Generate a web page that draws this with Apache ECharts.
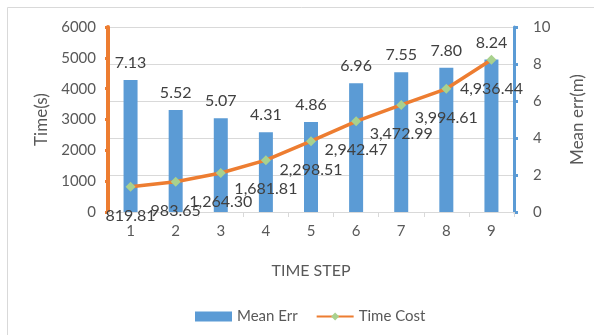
<!DOCTYPE html>
<html>
<head>
<meta charset="utf-8">
<script src="https://cdn.jsdelivr.net/npm/echarts@6/dist/echarts.min.js"></script>
<style>
html,body{margin:0;padding:0;background:#fff;}
#c{width:594px;height:335px;}
</style>
</head>
<body>
<div id="c"></div>
<script>
var categories = ['1','2','3','4','5','6','7','8','9'];
var meanErr = [7.13, 5.52, 5.07, 4.31, 4.86, 6.96, 7.55, 7.80, 8.24];
var timeCost = [819.81, 983.65, 1264.30, 1681.81, 2298.51, 2942.47, 3472.99, 3994.61, 4936.44];

var FONT = 'Lato';
var chart = echarts.init(document.getElementById('c'), null, {renderer: 'canvas'});
function fmt(v){
  return v.toLocaleString('en-US', {minimumFractionDigits: 2, maximumFractionDigits: 2});
}
chart.setOption({
  animation: false,
  textStyle: {fontFamily: FONT},
  graphic: [{
    type: 'rect', left: 7, top: 7, z: -10,
    shape: {width: 700, height: 400},
    style: {fill: '#fff', stroke: '#d9d9d9', lineWidth: 1}
  }],
  grid: {left: 108, right: 76, top: 27, bottom: 123},
  legend: {
    top: 304, left: 190,
    itemWidth: 37, itemHeight: 10, itemGap: 18,
    textStyle: {color: '#595959', fontSize: 15, fontFamily: FONT},
    data: [
      {name: 'Mean Err', icon: 'rect'},
      {name: 'Time Cost'}
    ]
  },
  xAxis: {
    type: 'category',
    data: categories,
    name: 'TIME STEP',
    nameLocation: 'middle',
    nameGap: 51,
    nameTextStyle: {color: '#595959', fontSize: 16, fontFamily: FONT},
    axisLine: {lineStyle: {color: '#d9d9d9', width: 1}},
    axisTick: {show: true, alignWithLabel: false, length: 5, lineStyle: {color: '#d9d9d9'}},
    axisLabel: {color: '#595959', fontSize: 15, margin: 12, fontFamily: FONT}
  },
  yAxis: [
    {
      type: 'value', min: 0, max: 6000, interval: 1000,
      name: 'Time(s)', nameLocation: 'middle', nameGap: 57,
      nameTextStyle: {color: '#595959', fontSize: 17, fontFamily: FONT},
      axisLine: {show: true, lineStyle: {color: '#ED7D31', width: 4}},
      axisTick: {show: true, length: 3, lineStyle: {color: '#ED7D31', width: 3}},
      axisLabel: {color: '#595959', fontSize: 15, margin: 12, fontFamily: FONT,
        formatter: function(v){ return String(v); }},
      splitLine: {show: false}
    },
    {
      type: 'value', min: 0, max: 10, interval: 2,
      name: 'Mean err(m)', nameLocation: 'middle', nameGap: 55,
      nameTextStyle: {color: '#595959', fontSize: 17, fontFamily: FONT},
      axisLine: {show: true, lineStyle: {color: '#5B9BD5', width: 3}},
      axisTick: {show: true, length: 4, lineStyle: {color: '#5B9BD5', width: 3}},
      axisLabel: {color: '#595959', fontSize: 15, margin: 19, fontFamily: FONT},
      splitLine: {show: true, lineStyle: {color: '#d9d9d9', width: 1}}
    }
  ],
  series: [
    {
      name: 'Mean Err',
      type: 'bar',
      yAxisIndex: 1,
      data: meanErr,
      barWidth: 14,
      itemStyle: {color: '#5B9BD5'},
      label: {
        show: true, position: 'top', distance: 9,
        color: '#404040', fontSize: 16, fontFamily: FONT,
        formatter: function(p){ return p.value.toFixed(2); }
      },
      z: 2
    },
    {
      name: 'Time Cost',
      type: 'line',
      yAxisIndex: 0,
      data: timeCost,
      symbol: 'diamond',
      symbolSize: 10,
      lineStyle: {color: '#ED7D31', width: 3.5},
      itemStyle: {color: '#A9D18E', borderColor: '#A9D18E', borderWidth: 0},
      label: {
        show: true, position: 'bottom', distance: 16,
        color: '#404040', fontSize: 16, fontFamily: FONT,
        formatter: function(p){ return fmt(p.value); }
      },
      z: 3
    }
  ]
});
</script>
</body>
</html>
